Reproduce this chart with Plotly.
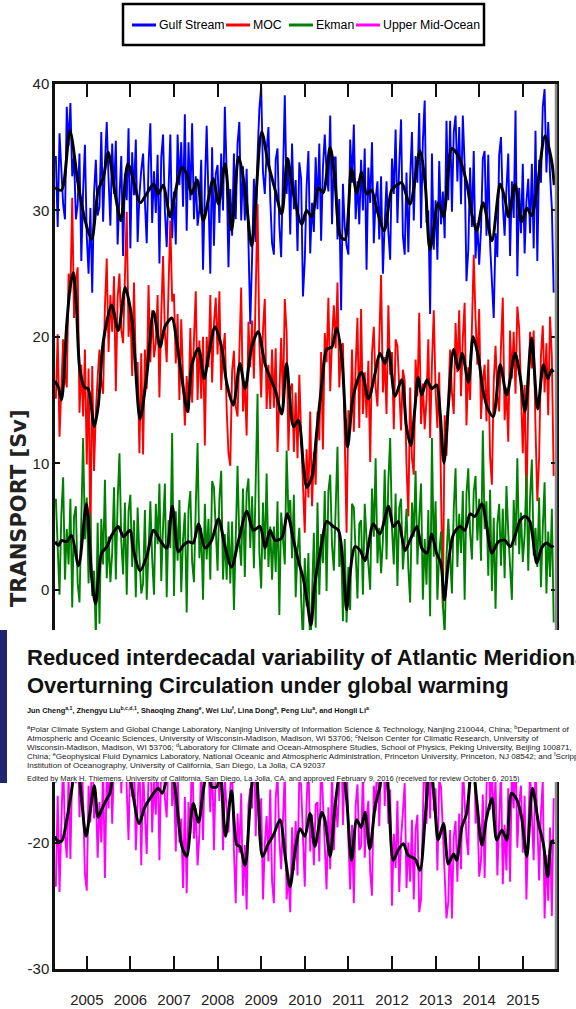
import numpy as np
import plotly.graph_objects as go

# ---------------------------------------------------------------- data
series_names = ["Gulf Stream", "MOC", "Ekman", "Upper Mid-Ocean"]
series_colors = ["#0000ff", "#ff0000", "#008000", "#ff00ff"]

# semi-monthly transport values [Sv], first sample at 2004.29
first_sample = 2004.29
samples_per_year = 24

gulf_stream = [
    34.3, 28.7, 36.1, 32.6, 30.5, 29.3, 38.2, 35.1, 38.5, 32.7, 34.3, 29.3, 30.5, 34.5, 26.0, 31.6, 35.2, 28.0, 25.0, 30.2, 23.5, 31.3, 34.0, 29.6,
    30.3, 36.2, 29.1, 33.7, 37.0, 32.5, 28.8, 35.3, 31.3, 35.5, 27.3, 31.1, 34.3, 26.4, 32.9, 30.8, 36.5, 27.0, 34.6, 31.2, 35.6, 27.5, 31.2, 33.2,
    34.5, 30.7, 27.4, 33.6, 36.9, 29.0, 33.1, 29.8, 34.4, 25.8, 34.2, 36.0, 30.0, 27.1, 31.9, 36.0, 27.8, 31.5, 27.3, 36.0, 32.0, 35.4, 30.3, 37.6,
    28.4, 35.4, 30.8, 36.9, 29.3, 32.7, 28.8, 30.1, 34.0, 25.3, 31.8, 36.7, 31.0, 25.0, 35.0, 27.2, 32.9, 33.6, 29.0, 34.5, 30.0, 38.2, 33.0, 25.5,
    31.7, 28.0, 34.5, 29.3, 35.3, 37.0, 29.2, 33.5, 29.2, 33.3, 27.5, 21.0, 26.3, 32.5, 27.5, 34.3, 38.0, 39.8, 33.0, 31.3, 34.7, 36.6, 30.9, 27.4,
    26.5, 34.0, 34.9, 28.8, 26.3, 33.0, 39.1, 31.3, 34.1, 28.1, 35.3, 30.1, 32.4, 26.8, 33.8, 32.5, 23.2, 26.0, 31.9, 34.7, 26.6, 30.6, 28.3, 34.2,
    30.1, 35.3, 27.6, 33.4, 36.0, 33.0, 31.5, 37.5, 28.9, 34.2, 34.2, 27.7, 30.9, 22.1, 32.1, 28.7, 27.2, 26.5, 35.6, 32.2, 36.8, 29.3, 32.3, 28.9,
    34.0, 30.0, 34.9, 25.3, 33.4, 30.6, 35.4, 27.4, 30.9, 32.3, 27.7, 32.7, 25.0, 29.0, 32.3, 28.3, 26.1, 34.1, 31.3, 36.4, 29.0, 33.6, 37.2, 28.0,
    26.5, 33.0, 26.7, 32.6, 36.2, 29.2, 34.3, 32.2, 37.7, 28.6, 35.5, 38.7, 29.0, 30.0, 21.8, 34.5, 26.9, 30.8, 26.1, 33.9, 28.9, 31.5, 27.8, 37.1,
    30.8, 37.1, 29.9, 36.2, 37.5, 32.3, 36.6, 30.5, 37.5, 33.6, 24.4, 26.9, 33.4, 28.7, 34.7, 26.2, 29.0, 25.7, 28.5, 34.1, 34.7, 28.0, 34.4, 27.3,
    24.0, 21.5, 28.2, 26.3, 34.4, 35.8, 30.5, 28.0, 31.7, 34.5, 26.4, 32.3, 29.4, 37.9, 24.8, 31.8, 28.2, 33.7, 26.6, 30.7, 32.5, 28.2, 33.7, 27.0,
    36.3, 26.0, 34.0, 32.2, 38.2, 39.6, 33.0, 37.0, 32.8, 30.2, 23.5,
]

moc = [
    15.1, 20.2, 12.1, 15.5, 19.8, 17.0, 16.0, 25.0, 23.5, 31.0, 21.5, 24.5, 25.5, 14.0, 17.8, 13.7, 19.0, 9.9, 17.5, 3.5, 17.7, 9.4, 14.1, 16.8,
    19.0, 16.5, 15.5, 22.4, 26.2, 18.8, 23.3, 20.4, 24.8, 15.7, 23.1, 25.0, 20.5, 19.5, 25.8, 29.9, 20.0, 22.3, 16.9, 24.3, 17.5, 18.0, 10.8, 18.7,
    10.7, 19.0, 15.9, 24.1, 18.0, 22.1, 18.4, 19.5, 23.3, 15.2, 21.7, 26.4, 20.3, 18.0, 23.8, 29.2, 22.8, 23.4, 17.9, 21.8, 15.0, 21.4, 16.8, 13.0,
    16.9, 14.0, 20.7, 14.8, 19.8, 23.6, 15.0, 19.7, 15.1, 20.0, 11.4, 20.0, 17.6, 23.3, 16.4, 21.0, 23.1, 18.6, 23.6, 15.8, 18.9, 20.3, 14.3, 10.8,
    9.8, 17.3, 18.9, 14.5, 13.7, 19.8, 23.9, 14.1, 16.5, 12.2, 21.2, 17.6, 21.3, 16.7, 24.5, 30.5, 19.6, 15.2, 20.6, 23.0, 14.3, 17.8, 14.3, 19.0,
    14.4, 19.1, 10.9, 16.3, 19.9, 14.5, 23.0, 20.4, 11.0, 15.9, 16.3, 10.9, 15.6, 10.4, 17.0, 12.2, 8.0, 4.5, 11.1, 7.3, 14.1, 6.6, 10.9, 8.3,
    14.1, 11.8, 18.8, 11.1, 20.3, 18.0, 23.1, 15.7, 19.8, 22.5, 19.1, 24.3, 16.0, 19.2, 19.5, 11.9, 4.5, 14.2, 12.5, 19.0, 12.5, 17.6, 21.5, 12.8,
    22.2, 13.9, 17.2, 13.6, 18.1, 10.1, 18.7, 20.8, 16.0, 14.5, 20.6, 24.9, 15.6, 18.4, 13.9, 22.5, 17.0, 18.8, 12.7, 19.8, 19.3, 15.7, 12.6, 17.4,
    16.5, 9.9, 5.8, 16.0, 10.4, 9.1, 18.2, 15.3, 21.9, 13.1, 16.3, 12.7, 15.0, 19.8, 12.0, 17.9, 22.1, 15.7, 12.8, 17.2, 7.6, -1.5, 13.8, 10.6,
    15.0, 19.0, 15.6, 13.9, 21.1, 17.2, 22.1, 15.3, 19.9, 22.7, 13.0, 17.6, 15.0, 22.0, 26.5, 21.4, 17.8, 22.2, 13.5, 16.4, 17.8, 13.3, 18.2, 10.5,
    8.3, 16.4, 19.3, 15.4, 14.1, 19.3, 23.1, 13.4, 16.0, 11.7, 20.5, 16.7, 20.4, 15.5, 22.4, 20.7, 15.4, 10.8, 16.2, 6.6, 14.8, 20.4, 17.5, 20.5,
    12.8, 7.0, 10.5, 18.5, 20.9, 15.6, 19.5, 13.8, 21.6, 18.4, 9.0,
]

ekman = [
    7.2, 3.0, -0.4, 5.9, 8.9, 0.8, 4.8, 2.0, 7.2, -1.4, 5.8, 6.6, 0.5, -1.0, 6.0, 12.0, 4.0, 7.3, 0.5, 6.0, -0.5, 1.5, -3.8, 5.3,
    -2.7, 5.6, 2.0, 8.7, 0.9, 4.2, 0.6, 2.9, 8.1, 0.8, 7.0, 10.8, 3.9, 1.2, 6.9, -0.4, 6.2, 7.5, 1.8, 5.5, -0.6, 6.5, 2.6, -0.3,
    0.5, 6.3, -0.8, 3.8, 7.0, 2.5, -0.4, 6.8, 3.6, 8.4, 0.7, 5.0, 8.4, -0.6, 5.5, 3.3, 12.4, -0.5, 6.2, 2.3, 7.1, -0.2, 4.0, 6.1,
    -1.8, 6.3, 7.8, 2.2, 0.6, 6.6, 11.6, 2.5, 4.9, -0.8, 6.8, 2.4, 5.6, 0.8, 8.6, 8.1, 4.7, 1.5, 7.2, 9.4, 0.8, 4.4, 0.8, 5.4,
    0.5, 5.4, -1.6, 5.1, 9.8, 3.8, 1.9, 8.0, 1.0, 7.7, 8.8, 3.3, 7.4, 1.7, 9.3, 15.5, 3.0, 0.1, 6.9, 2.4, 9.2, 1.8, 5.0, 0.8,
    5.0, 1.4, 7.0, -2.0, 6.1, 3.6, 2.0, 11.0, 6.0, 7.1, 2.5, 7.5, -0.6, 3.0, 4.9, -0.7, -4.2, 2.5, -1.3, 2.9, -5.6, -0.5, 4.5, -3.0,
    6.9, -0.4, 4.4, 2.1, 7.8, -0.1, 7.8, 9.1, 3.5, 1.5, 6.9, 11.3, 1.8, 3.8, -2.5, 4.0, -2.6, 1.8, -1.6, 6.8, 6.5, 2.9, -0.7, 5.2,
    5.5, -0.4, 6.8, 4.0, 1.8, 0.0, 8.0, 4.2, 10.4, 2.1, 4.9, 1.3, 3.9, 9.5, 2.4, 8.6, 12.0, 4.8, 2.0, 7.6, 0.3, 6.5, 7.2, 1.6,
    3.7, 6.4, 1.7, -1.0, 6.9, 4.2, 9.4, 2.0, 5.7, 8.4, -0.8, 4.0, 0.4, 6.3, -2.1, 12.0, 2.6, 7.0, -0.8, 2.9, 4.6, -1.2, -3.5, 2.5,
    5.6, 2.4, -0.3, 6.4, 9.6, 1.8, 6.0, 2.9, 7.8, -0.8, 7.6, 9.6, 4.5, 2.4, 7.8, 9.0, 3.9, 7.2, 2.3, 12.6, 4.8, 7.0, 1.1, 7.9,
    -0.1, 5.7, -1.5, 5.2, 6.8, 1.9, 6.4, 0.9, 8.2, 4.5, 1.4, -0.8, 7.1, 3.5, 10.4, 2.8, 6.1, 2.2, 4.3, 9.1, 1.5, 7.3, 10.3, 2.7,
    4.9, 1.8, 7.3, 0.2, 4.9, 8.5, -0.3, 4.6, 1.0, 6.4, -2.6,
]

upper_mid_ocean = [
    -23.5, -16.3, -23.9, -17.9, -13.4, -19.3, -21.2, -14.7, -21.3, -14.0, -11.2, -15.3, -11.0, -18.0, -11.8, -16.7, -22.5, -23.8, -15.5, -18.4, -11.0, -18.1, -16.0, -21.2,
    -16.8, -20.0, -14.2, -22.8, -14.5, -17.3, -11.9, -18.5, -13.5, -10.7, -14.4, -8.7, -16.1, -12.0, -10.0, -15.8, -19.8, -12.8, -16.4, -12.3, -20.6, -16.8, -13.1, -21.8,
    -14.0, -17.7, -20.9, -14.6, -11.4, -19.2, -15.0, -17.8, -12.7, -21.4, -13.6, -11.6, -16.5, -18.0, -12.2, -7.6, -17.1, -14.8, -20.7, -14.1, -20.0, -18.1, -23.6, -16.4,
    -24.0, -16.8, -19.3, -11.7, -19.7, -17.3, -21.8, -19.4, -13.4, -19.8, -12.7, -7.8, -14.0, -17.6, -13.1, -20.6, -14.1, -12.2, -16.7, -13.2, -20.6, -14.8, -17.4, -19.2,
    -15.7, -14.0, -20.6, -24.8, -17.7, -20.8, -16.1, -24.2, -20.2, -25.3, -17.0, -15.7, -17.3, -10.5, -19.5, -14.0, -19.5, -16.5, -24.5, -20.2, -17.9, -21.5, -15.8, -23.1,
    -24.8, -16.5, -14.6, -19.8, -22.1, -17.8, -14.4, -24.5, -22.5, -25.5, -18.8, -22.2, -18.3, -22.6, -14.6, -15.5, -19.8, -23.5, -16.9, -13.3, -20.7, -17.8, -21.8, -17.0,
    -16.8, -21.5, -13.2, -16.8, -20.2, -23.7, -17.2, -22.1, -14.2, -20.6, -16.3, -18.8, -15.6, -10.1, -18.6, -13.9, -11.5, -19.8, -23.7, -18.6, -24.8, -17.1, -15.4, -20.6,
    -20.3, -14.3, -21.2, -18.1, -16.7, -22.3, -24.2, -15.5, -17.5, -11.8, -18.7, -13.3, -8.8, -17.1, -13.0, -18.5, -15.8, -25.0, -19.3, -22.0, -16.7, -23.9, -19.7, -17.6,
    -15.3, -23.6, -20.0, -23.1, -18.2, -24.5, -19.0, -17.8, -25.5, -24.5, -17.2, -11.6, -18.5, -13.8, -18.1, -11.3, -17.5, -15.7, -22.2, -15.1, -15.6, -19.3, -23.8, -26.0,
    -24.7, -19.0, -26.0, -19.5, -18.3, -23.1, -17.7, -22.1, -13.9, -17.0, -19.6, -21.0, -11.8, -14.7, -9.1, -18.5, -17.3, -22.7, -21.5, -16.2, -22.8, -16.0, -11.5, -17.4,
    -14.0, -18.3, -14.9, -22.6, -17.7, -14.1, -23.3, -18.6, -22.2, -15.7, -23.1, -14.1, -17.3, -12.5, -20.4, -16.9, -15.5, -20.8, -16.3, -24.5, -19.0, -14.3, -17.9, -21.4,
    -13.7, -18.7, -23.0, -17.6, -15.1, -26.0, -21.0, -24.6, -18.8, -25.8, -16.5,
]

# low-pass filtered curves (knot year, value)
gulf_smooth_t = [2004.27, 2004.42, 2004.61, 2004.80, 2004.96, 2005.11, 2005.26, 2005.38, 2005.49, 2005.65, 2005.78, 2005.94,
                 2006.07, 2006.22, 2006.37, 2006.53, 2006.64, 2006.75, 2006.91, 2007.02, 2007.18, 2007.29, 2007.40, 2007.53,
                 2007.67, 2007.90, 2008.02, 2008.17, 2008.32, 2008.48, 2008.63, 2008.78, 2009.01, 2009.16, 2009.32, 2009.47,
                 2009.60, 2009.74, 2009.93, 2010.04, 2010.16, 2010.31, 2010.42, 2010.58, 2010.69, 2010.81, 2010.92, 2011.07,
                 2011.19, 2011.30, 2011.42, 2011.53, 2011.65, 2011.82, 2011.99, 2012.11, 2012.22, 2012.41, 2012.64, 2012.76,
                 2012.87, 2013.06, 2013.18, 2013.37, 2013.52, 2013.71, 2013.83, 2013.94, 2014.09, 2014.29, 2014.48, 2014.59,
                 2014.67, 2014.82, 2014.97, 2015.09, 2015.20, 2015.32, 2015.51, 2015.66, 2015.72]
gulf_smooth_v = [31.8, 31.6, 36.3, 32.1, 29.2, 27.7, 31.6, 32.6, 34.6, 31.3, 29.2, 33.7,
                 32.4, 30.6, 31.3, 32.1, 31.3, 32.0, 29.5, 31.3, 33.4, 32.9, 31.3, 32.4,
                 29.2, 32.5, 30.5, 33.7, 28.4, 34.2, 31.6, 27.2, 36.2, 33.7, 31.6, 29.7,
                 34.1, 31.3, 28.9, 30.0, 29.5, 31.8, 31.4, 35.0, 32.4, 28.0, 27.7, 33.3,
                 31.4, 33.0, 31.3, 31.6, 30.1, 28.4, 31.6, 32.0, 32.2, 30.5, 34.7, 32.1,
                 26.9, 30.6, 29.5, 34.9, 34.3, 32.2, 29.7, 28.4, 30.6, 27.6, 32.1, 30.9,
                 29.5, 32.1, 29.1, 30.2, 29.6, 31.6, 35.9, 33.9, 32.0]

moc_smooth_t = [2004.27, 2004.35, 2004.42, 2004.54, 2004.62, 2004.69, 2004.76, 2004.84, 2004.95, 2005.03, 2005.17, 2005.26,
                2005.38, 2005.57, 2005.72, 2005.88, 2006.03, 2006.10, 2006.22, 2006.37, 2006.53, 2006.68, 2006.79, 2006.95,
                2007.06, 2007.18, 2007.31, 2007.41, 2007.56, 2007.69, 2007.80, 2007.94, 2008.09, 2008.21, 2008.36, 2008.51,
                2008.63, 2008.78, 2008.93, 2009.09, 2009.32, 2009.47, 2009.58, 2009.74, 2009.85, 2009.97, 2010.04, 2010.16,
                2010.27, 2010.39, 2010.50, 2010.62, 2010.73, 2010.85, 2010.98, 2011.11, 2011.30, 2011.46, 2011.61, 2011.72,
                2011.84, 2011.92, 2012.07, 2012.22, 2012.33, 2012.43, 2012.52, 2012.60, 2012.68, 2012.80, 2012.91, 2013.02,
                2013.10, 2013.19, 2013.29, 2013.41, 2013.52, 2013.61, 2013.75, 2013.86, 2013.98, 2014.09, 2014.21, 2014.32,
                2014.48, 2014.63, 2014.82, 2014.94, 2015.05, 2015.20, 2015.34, 2015.47, 2015.57, 2015.66, 2015.70]
moc_smooth_v = [16.5, 16.0, 15.0, 21.0, 24.0, 25.1, 22.5, 17.4, 16.0, 15.9, 12.9, 14.5,
                19.7, 22.5, 20.5, 23.9, 21.5, 18.5, 13.5, 16.8, 22.0, 19.2, 20.8, 21.5,
                19.7, 16.7, 14.1, 17.8, 19.1, 16.7, 18.7, 20.8, 19.2, 16.3, 14.6, 17.9,
                15.9, 19.2, 20.4, 17.8, 15.8, 13.9, 17.9, 12.9, 13.4, 9.7, 8.1, 8.9,
                12.4, 16.3, 19.0, 19.2, 20.7, 18.3, 11.3, 15.3, 17.2, 15.1, 17.1, 18.7,
                17.9, 19.0, 15.3, 16.6, 12.9, 11.4, 14.2, 16.8, 15.4, 16.6, 15.9, 16.2,
                14.1, 10.0, 14.5, 19.0, 17.4, 18.7, 16.4, 20.0, 18.4, 15.7, 14.2, 13.7,
                17.8, 15.4, 18.7, 16.8, 14.1, 19.9, 14.3, 17.8, 16.7, 17.4, 17.2]

ekman_smooth_t = [2004.27, 2004.35, 2004.42, 2004.54, 2004.65, 2004.81, 2004.99, 2005.11, 2005.20, 2005.34, 2005.46, 2005.57,
                  2005.72, 2005.84, 2005.99, 2006.07, 2006.22, 2006.37, 2006.53, 2006.68, 2006.83, 2006.96, 2007.10, 2007.21,
                  2007.33, 2007.44, 2007.56, 2007.71, 2007.86, 2008.02, 2008.17, 2008.32, 2008.48, 2008.67, 2008.82, 2008.97,
                  2009.09, 2009.20, 2009.32, 2009.47, 2009.60, 2009.74, 2009.85, 2009.97, 2010.06, 2010.14, 2010.23, 2010.39,
                  2010.50, 2010.65, 2010.77, 2010.88, 2010.96, 2011.04, 2011.15, 2011.27, 2011.38, 2011.57, 2011.72, 2011.92,
                  2012.03, 2012.14, 2012.30, 2012.41, 2012.57, 2012.68, 2012.80, 2012.91, 2013.02, 2013.12, 2013.20, 2013.29,
                  2013.41, 2013.56, 2013.67, 2013.79, 2013.90, 2014.06, 2014.17, 2014.29, 2014.44, 2014.59, 2014.71, 2014.86,
                  2014.94, 2015.05, 2015.16, 2015.32, 2015.43, 2015.55, 2015.66, 2015.70]
ekman_smooth_v = [3.8, 3.5, 3.9, 3.8, 4.3, 1.9, 6.8, 1.0, -1.1, 2.9, 3.4, 4.3,
                  5.0, 4.2, 4.7, 3.1, 1.5, 2.6, 4.7, 3.9, 3.3, 6.6, 3.0, 3.5,
                  3.8, 3.7, 5.2, 3.3, 3.9, 5.6, 3.4, 1.8, 3.9, 6.2, 4.7, 5.0,
                  3.3, 4.7, 3.9, 4.1, 6.0, 3.9, 2.3, 0.8, -1.1, -2.8, 0.5, 3.7,
                  5.4, 5.0, 4.7, 1.8, -1.6, 1.4, 3.4, 3.1, 2.3, 5.2, 4.4, 6.6,
                  5.0, 5.4, 3.1, 3.9, 5.0, 3.3, 2.9, 4.4, 2.9, 2.1, -0.8, 2.1,
                  4.4, 5.0, 4.7, 6.0, 5.8, 6.8, 5.0, 2.9, 3.8, 3.9, 3.4, 4.7,
                  5.5, 5.8, 5.4, 2.1, 3.3, 3.7, 3.4, 3.5]

umo_smooth_t = [2004.27, 2004.31, 2004.42, 2004.54, 2004.65, 2004.77, 2004.88, 2004.98, 2005.07, 2005.17, 2005.26, 2005.34,
                2005.45, 2005.53, 2005.68, 2005.84, 2006.03, 2006.20, 2006.33, 2006.49, 2006.64, 2006.73, 2006.91, 2007.02,
                2007.18, 2007.29, 2007.44, 2007.56, 2007.67, 2007.79, 2007.86, 2007.98, 2008.06, 2008.18, 2008.32, 2008.44,
                2008.51, 2008.63, 2008.74, 2008.86, 2008.93, 2009.03, 2009.16, 2009.28, 2009.43, 2009.55, 2009.66, 2009.78,
                2009.89, 2010.00, 2010.12, 2010.23, 2010.39, 2010.46, 2010.58, 2010.69, 2010.85, 2010.96, 2011.07, 2011.19,
                2011.29, 2011.38, 2011.49, 2011.61, 2011.72, 2011.84, 2011.92, 2012.03, 2012.14, 2012.26, 2012.37, 2012.53,
                2012.64, 2012.76, 2012.87, 2012.97, 2013.06, 2013.18, 2013.29, 2013.41, 2013.48, 2013.60, 2013.71, 2013.84,
                2013.94, 2014.06, 2014.17, 2014.29, 2014.40, 2014.52, 2014.63, 2014.74, 2014.86, 2014.97, 2015.09, 2015.22,
                2015.36, 2015.47, 2015.57, 2015.66, 2015.72]
umo_smooth_v = [-19.5, -19.8, -19.9, -18.2, -15.9, -13.0, -16.6, -19.5, -17.7, -15.5, -18.0, -17.4,
                -16.6, -16.1, -13.0, -12.5, -15.6, -18.5, -17.2, -16.3, -15.7, -16.1, -14.0, -15.6,
                -20.3, -21.1, -16.9, -18.4, -15.9, -13.5, -15.6, -15.6, -14.5, -19.5, -15.9, -20.2,
                -20.3, -21.8, -17.2, -13.0, -16.6, -21.1, -20.1, -19.4, -18.2, -21.1, -23.5, -20.6,
                -18.9, -19.5, -17.7, -20.3, -17.6, -18.2, -21.1, -17.2, -13.5, -16.6, -21.4, -18.2,
                -18.8, -17.6, -20.5, -17.2, -15.6, -13.0, -16.1, -21.4, -20.6, -20.1, -21.0, -21.3,
                -22.2, -18.0, -13.5, -16.6, -19.8, -18.5, -21.7, -20.9, -21.4, -18.8, -17.7, -13.5,
                -16.6, -20.2, -18.0, -16.5, -19.8, -19.0, -19.8, -16.1, -16.6, -18.0, -21.1, -15.7,
                -18.5, -20.1, -22.7, -19.9, -19.9]

year_ticks = [2005, 2006, 2007, 2008, 2009, 2010, 2011, 2012, 2013, 2014, 2015]
year_labels = [str(y) for y in year_ticks]
transport_ticks = [-30, -20, -10, 0, 10, 20, 30, 40]
transport_labels = ["-30", "-20", "-10", "0", "10", "20", "30", "40"]

# header of the article printed across the chart
article_title = ["Reduced interdecadal variability of Atlantic Meridional",
                 "Overturning Circulation under global warming"]
article_authors = ("Jun Cheng<sup>a,1</sup>, Zhengyu Liu<sup>b,c,d,1</sup>, Shaoqing Zhang<sup>e</sup>, "
                   "Wei Liu<sup>f</sup>, Lina Dong<sup>a</sup>, Peng Liu<sup>a</sup>, and Hongli Li<sup>a</sup>")
article_affiliations = [
    "<sup>a</sup>Polar Climate System and Global Change Laboratory, Nanjing University of Information Science &amp; Technology, Nanjing 210044, China; <sup>b</sup>Department of",
    "Atmospheric and Oceanic Sciences, University of Wisconsin-Madison, Madison, WI 53706; <sup>c</sup>Nelson Center for Climatic Research, University of",
    "Wisconsin-Madison, Madison, WI 53706; <sup>d</sup>Laboratory for Climate and Ocean-Atmosphere Studies, School of Physics, Peking University, Beijing 100871,",
    "China; <sup>e</sup>Geophysical Fluid Dynamics Laboratory, National Oceanic and Atmospheric Administration, Princeton University, Princeton, NJ 08542; and <sup>f</sup>Scripps",
    "Institution of Oceanography, University of California, San Diego, La Jolla, CA 92037",
]
article_editor = ("Edited by Mark H. Thiemens, University of California, San Diego, La Jolla, CA, "
                  "and approved February 9, 2016 (received for review October 6, 2015)")

# ---------------------------------------------------------------- layout geometry
W, H = 576, 1009
ML, MR, MT, MB = 55, 20, 84, 40
PW, PH = W - ML - MR, H - MT - MB


def px_x(p):
    return (p - ML) / PW


def px_y(p):
    return (H - MB - p) / PH


SANS = "Liberation Sans, Arial, sans-serif"

fig = go.Figure()

raw_series = [gulf_stream, moc, ekman, upper_mid_ocean]
for name, color, vals in zip(series_names, series_colors, raw_series):
    t = first_sample + np.arange(len(vals)) / samples_per_year
    fig.add_trace(go.Scatter(x=t, y=vals, mode="lines", name=name,
                             line=dict(color=color, width=1.9), showlegend=False))

smooth_series = [(gulf_smooth_t, gulf_smooth_v), (moc_smooth_t, moc_smooth_v),
                 (ekman_smooth_t, ekman_smooth_v), (umo_smooth_t, umo_smooth_v)]
for name, (ts, vs) in zip(series_names, smooth_series):
    fig.add_trace(go.Scatter(x=ts, y=vs, mode="lines", name=name + " (filtered)",
                             line=dict(color="#000000", width=3, shape="spline", smoothing=0.8),
                             showlegend=False))

axis_common = dict(showgrid=False, zeroline=False, showline=True, linecolor="#111111",
                   linewidth=2.5, mirror="ticks", ticks="inside", tickcolor="#111111",
                   tickwidth=2, automargin=False,
                   tickfont=dict(family=SANS, size=15, color="#222222"))

fig.update_xaxes(range=[2004.27, 2015.76], tickvals=year_ticks, ticktext=year_labels,
                 ticklen=13, ticklabelstandoff=15, **axis_common)
fig.update_yaxes(range=[-30, 40], tickvals=transport_ticks, ticktext=transport_labels,
                 ticklen=5, **axis_common)

shapes = []
annotations = []

# grey right frame edge
shapes.append(dict(type="line", xref="paper", yref="paper", x0=1, x1=1, y0=0, y1=1,
                   line=dict(color="#8a8a8a", width=2.5), layer="above"))

# legend box with line samples
shapes.append(dict(type="rect", xref="paper", yref="paper",
                   x0=px_x(123), x1=px_x(484), y0=px_y(45), y1=px_y(4),
                   line=dict(color="#000000", width=2.5), fillcolor="rgba(0,0,0,0)", layer="above"))
legend_line_x = [132, 226, 289, 356]
for name, color, lx in zip(series_names, series_colors, legend_line_x):
    shapes.append(dict(type="line", xref="paper", yref="paper",
                       x0=px_x(lx), x1=px_x(lx + 24), y0=px_y(25), y1=px_y(25),
                       line=dict(color=color, width=3), layer="above"))
    annotations.append(dict(text=name, xref="paper", yref="paper", x=px_x(lx + 25), y=px_y(25),
                            xanchor="left", yanchor="middle", showarrow=False,
                            font=dict(family=SANS, size=12.3, color="#000000")))

# y-axis title
annotations.append(dict(text="TRANSPORT [Sv]", textangle=-90, xref="paper", yref="paper",
                        x=px_x(19), y=px_y(407), xanchor="center", yanchor="top", showarrow=False,
                        font=dict(family="DejaVu Sans, sans-serif", size=21, color="#222222", weight="bold")))

# article header band
shapes.append(dict(type="rect", xref="paper", yref="paper",
                   x0=px_x(0), x1=px_x(W), y0=px_y(782), y1=px_y(630),
                   line=dict(width=0), fillcolor="#ffffff", layer="above"))
shapes.append(dict(type="rect", xref="paper", yref="paper",
                   x0=px_x(0), x1=px_x(7), y0=px_y(783), y1=px_y(630),
                   line=dict(width=0), fillcolor="#1f2370", layer="above"))

text_x = px_x(25)
for line, yc in zip(article_title, [657, 685]):
    annotations.append(dict(text=line, xref="paper", yref="paper", x=text_x, y=px_y(yc),
                            xanchor="left", yanchor="middle", showarrow=False,
                            font=dict(family=SANS, size=22, color="#111111", weight="bold")))
annotations.append(dict(text=article_authors, xref="paper", yref="paper", x=text_x, y=px_y(710),
                        xanchor="left", yanchor="middle", showarrow=False,
                        font=dict(family=SANS, size=7.4, color="#111111", weight="bold")))
for line, yc in zip(article_affiliations, [729, 738, 747, 756, 765]):
    annotations.append(dict(text=line, xref="paper", yref="paper", x=text_x, y=px_y(yc),
                            xanchor="left", yanchor="middle", showarrow=False,
                            font=dict(family=SANS, size=8.1, color="#222222")))
annotations.append(dict(text=article_editor, xref="paper", yref="paper", x=text_x, y=px_y(778),
                        xanchor="left", yanchor="middle", showarrow=False,
                        font=dict(family=SANS, size=7.5, color="#222222")))

fig.update_layout(width=W, height=H, margin=dict(l=ML, r=MR, t=MT, b=MB, pad=0, autoexpand=False),
                  paper_bgcolor="#ffffff", plot_bgcolor="#ffffff",
                  shapes=shapes, annotations=annotations, showlegend=False)

fig.write_html("out.html")
